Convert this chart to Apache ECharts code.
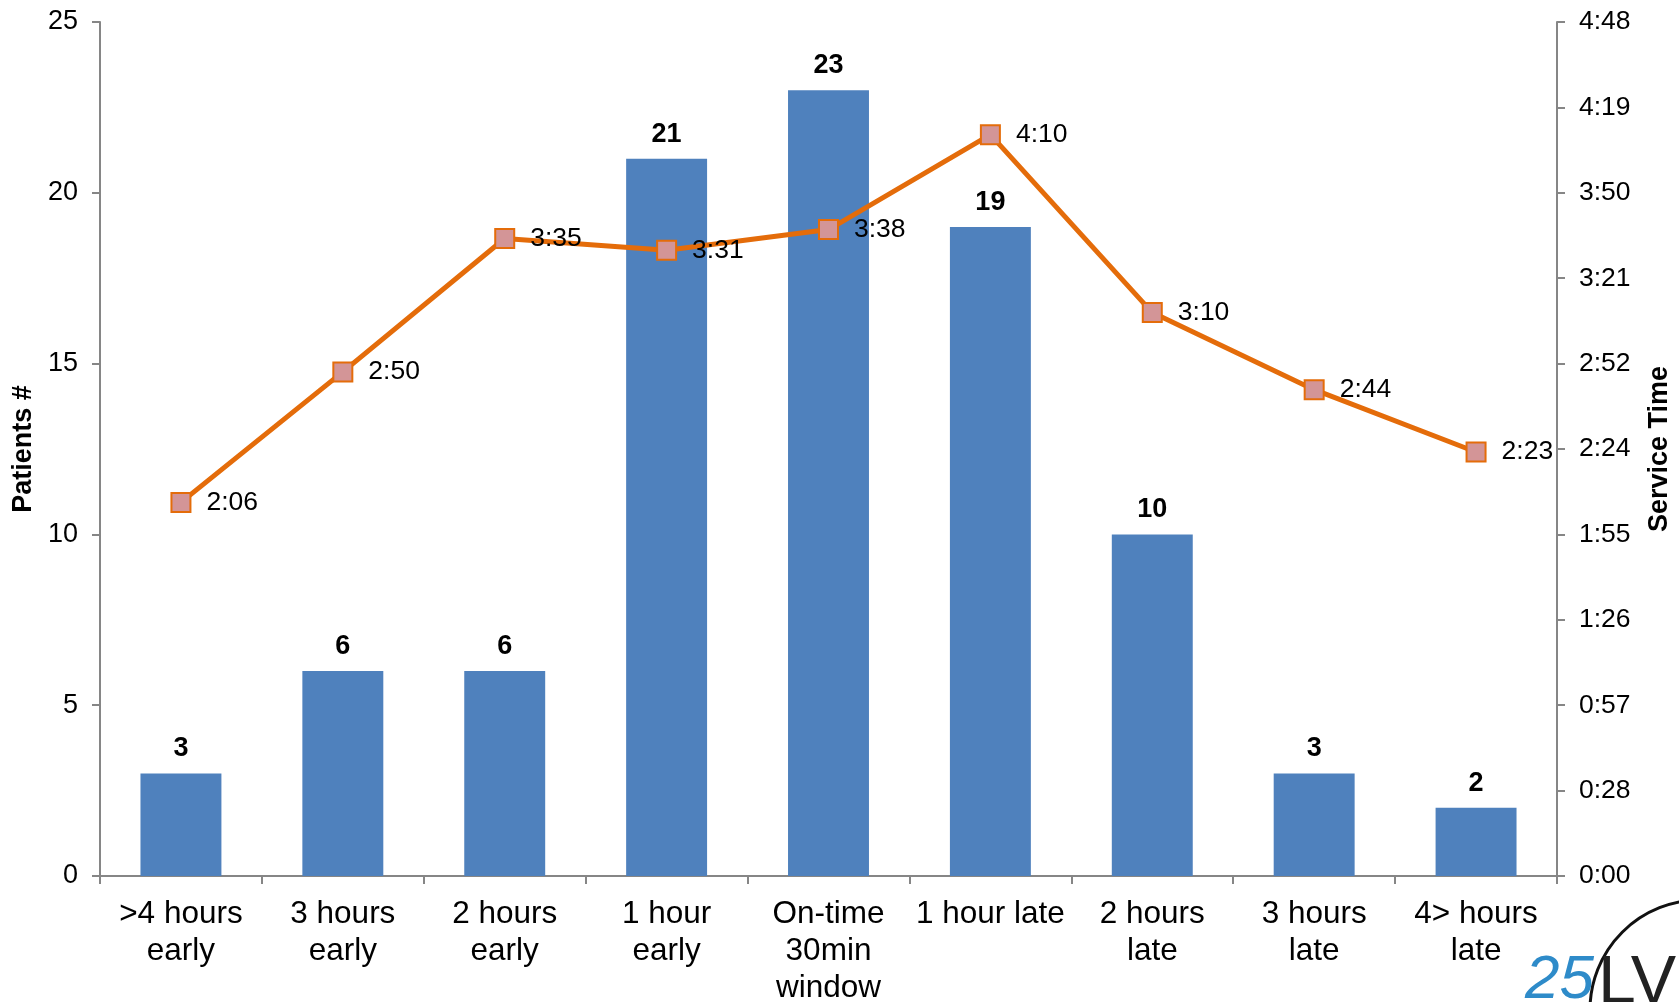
<!DOCTYPE html>
<html>
<head>
<meta charset="utf-8">
<script src="https://cdn.jsdelivr.net/npm/echarts@6/dist/echarts.min.js"></script>
<style>
html,body{margin:0;padding:0;background:#fff;}
#chart{width:1679px;height:1002px;}
</style>
</head>
<body>
<div id="chart"></div>
<script>
const categories = [">4 hours\nearly", "3 hours\nearly", "2 hours\nearly", "1 hour\nearly", "On-time\n30min\nwindow", "1 hour late", "2 hours\nlate", "3 hours\nlate", "4> hours\nlate"];
const patients = [3, 6, 6, 21, 23, 19, 10, 3, 2];
// service time in minutes
const serviceMinutes = [126, 170, 215, 211, 218, 250, 190, 164, 143];
const patientsAxisMax = 25;
const serviceAxisMax = 288; // 4:48
const serviceAxisStep = 28.8;

function fmtTime(v) {
  const t = Math.floor(v + 1e-6);
  const h = Math.floor(t / 60);
  const m = t % 60;
  return h + ':' + (m < 10 ? '0' : '') + m;
}

const FONT = 'Liberation Sans, Arial, sans-serif';
const chart = echarts.init(document.getElementById('chart'), null, {renderer: 'canvas'});
chart.setOption({
  animation: false,
  backgroundColor: '#ffffff',
  textStyle: {fontFamily: FONT},
  grid: {left: 100, right: 122, top: 22, bottom: 126, containLabel: false, outerBoundsMode: 'none'},
  xAxis: {
    type: 'category',
    data: categories,
    axisLine: {lineStyle: {color: '#868686', width: 2}},
    axisTick: {show: true, length: 8, lineStyle: {color: '#868686', width: 2}},
    axisLabel: {interval: 0, color: '#000', fontSize: 31.5, lineHeight: 37, margin: 20, fontFamily: FONT}
  },
  yAxis: [
    {
      type: 'value', min: 0, max: patientsAxisMax, interval: 5,
      name: 'Patients #', nameLocation: 'middle', nameRotate: 90, nameGap: 60,
      nameTextStyle: {fontSize: 27, fontWeight: 'bold', color: '#000', fontFamily: FONT},
      axisLine: {show: true, lineStyle: {color: '#868686', width: 2}},
      axisTick: {show: true, length: 8, lineStyle: {color: '#868686', width: 2}},
      axisLabel: {color: '#000', fontSize: 27, margin: 22, fontFamily: FONT},
      splitLine: {show: false}
    },
    {
      type: 'value', min: 0, max: serviceAxisMax, interval: serviceAxisStep, position: 'right',
      name: 'Service Time', nameLocation: 'middle', nameRotate: 90, nameGap: 89,
      nameTextStyle: {fontSize: 27, fontWeight: 'bold', color: '#000', fontFamily: FONT},
      axisLine: {show: true, lineStyle: {color: '#868686', width: 2}},
      axisTick: {show: true, length: 8, lineStyle: {color: '#868686', width: 2}},
      axisLabel: {color: '#000', fontSize: 26.5, margin: 22, fontFamily: FONT, formatter: fmtTime},
      splitLine: {show: false}
    }
  ],
  series: [
    {
      type: 'bar', data: patients, yAxisIndex: 0, barCategoryGap: '50%',
      itemStyle: {color: '#4F81BD'},
      label: {show: true, position: 'top', distance: 11, color: '#000', fontSize: 27, fontWeight: 'bold', fontFamily: FONT}
    },
    {
      type: 'line', data: serviceMinutes, yAxisIndex: 1,
      symbol: 'rect', symbolSize: 19,
      lineStyle: {color: '#E46C0A', width: 5},
      itemStyle: {color: '#D39597', borderColor: '#E46C0A', borderWidth: 2},
      label: {show: true, position: 'right', distance: 15, color: '#000', fontSize: 26.5, fontFamily: FONT, formatter: p => fmtTime(p.value)},
      z: 5
    }
  ],
  graphic: [
    {type: 'arc', shape: {cx: 1700, cy: 1010, r: 110, startAngle: Math.PI * 1.0, endAngle: Math.PI * 1.5}, style: {stroke: '#111', lineWidth: 3, fill: null}, silent: true},
    {type: 'text', left: 1525, top: 950, style: {text: '25', fill: '#2E8BC9', font: 'italic 62px ' + FONT}, silent: true},
    {type: 'text', left: 1598, top: 950, style: {text: 'LVP', fill: '#222', font: '300 68px ' + FONT}, silent: true}
  ]
});
</script>
</body>
</html>
